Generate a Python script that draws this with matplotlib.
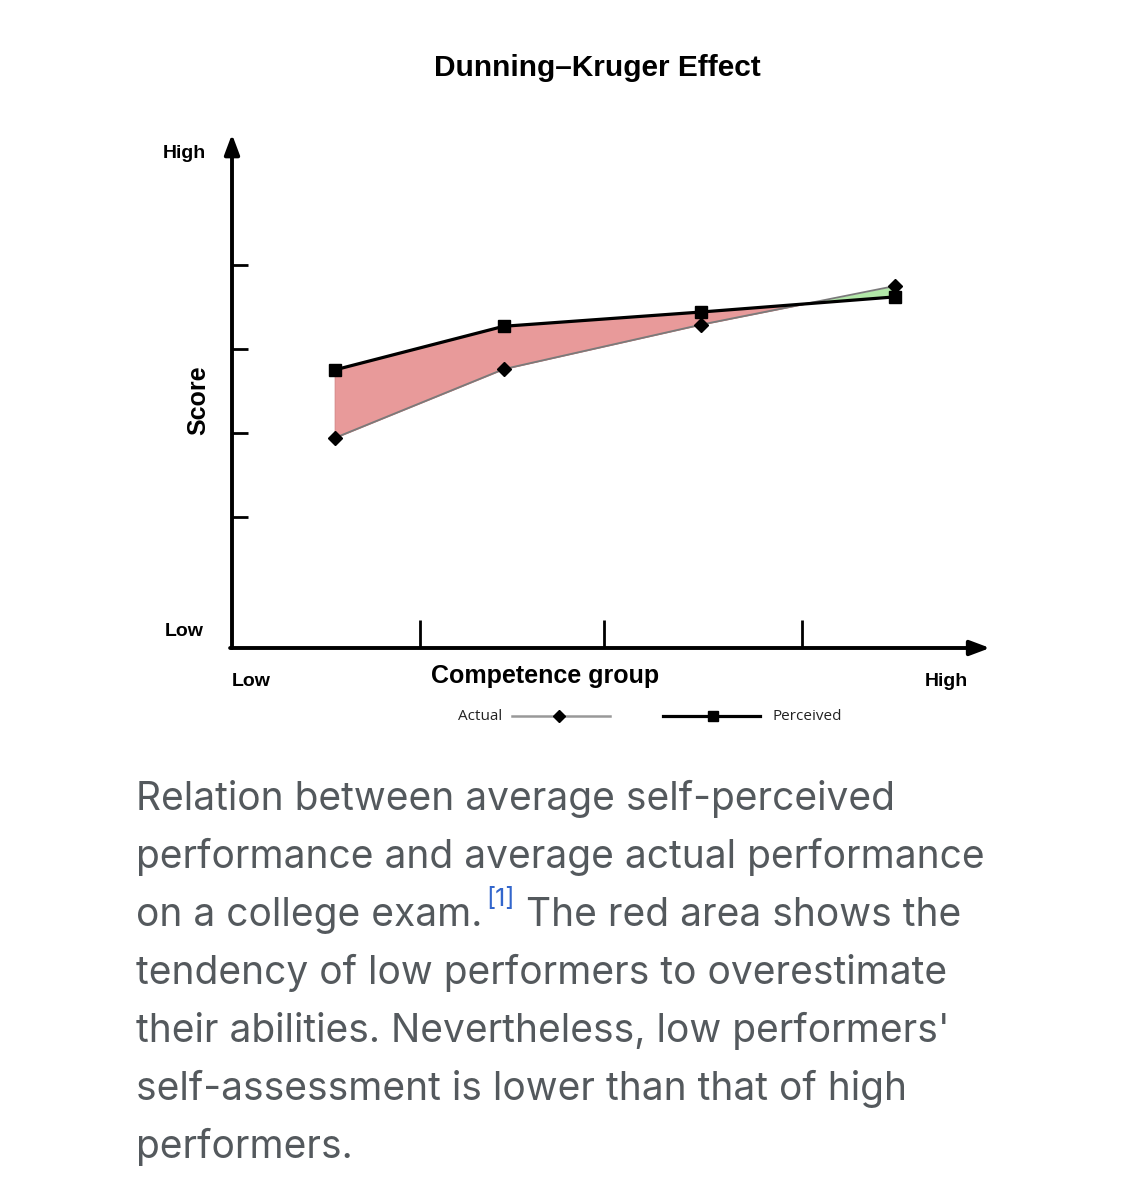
import numpy as np
import matplotlib
matplotlib.use("Agg")
import matplotlib.pyplot as plt

# competence groups (quartile centres) and scores
groups = [0.54, 1.43, 2.47, 3.49]
actual = [1.94, 2.76, 3.29, 3.75]
perceived = [2.75, 3.27, 3.44, 3.62]
group_ticks = [0.99, 1.96, 3.0]
score_ticks = [1, 2, 3, 4]

title = "Dunning\u2013Kruger Effect"
caption_lines = [
    "Relation between average self-perceived",
    "performance and average actual performance",
    "on a college exam.",
    "tendency of low performers to overestimate",
    "their abilities. Nevertheless, low performers'",
    "self-assessment is lower than that of high",
    "performers.",
]

W, H = 1147, 1200
fig = plt.figure(figsize=(W / 100, H / 100), dpi=100)
fig.patch.set_facecolor("white")

def fx(px):
    return px / W

def fy(py):
    return 1 - py / H

# axes box in pixels: x 232..990, y 130..648
ax = fig.add_axes([fx(232), fy(648), fx(990) - fx(232), fy(130) - fy(648)])
xmax = (990 - 232) / 190
ymin = -0.56
ymax = ymin + (648 - 130) / 84
ax.set_xlim(0, xmax)
ax.set_ylim(ymin, ymax)
ax.axis("off")

x = np.array(groups)
a = np.array(actual)
p = np.array(perceived)
ax.fill_between(x, a, p, where=p >= a, interpolate=True, color="#e89a9a", lw=0.6, edgecolor="#d08080")
ax.fill_between(x, a, p, where=p < a, interpolate=True, color="#b2e8a8", lw=0)

ax.plot(x, a, color="#7a7a7a", lw=1.3, marker="D", ms=7, mfc="black", mec="black", zorder=3)
ax.plot(x, p, color="black", lw=2.3, marker="s", ms=8, mfc="black", mec="black", zorder=4)

# arrows for axes
arr = dict(arrowstyle="-|>,head_width=0.45,head_length=1.2", color="black", lw=2.8, shrinkA=0, shrinkB=0)
ax.annotate("", xy=(0, ymax - 0.05), xytext=(0, ymin), arrowprops=arr, annotation_clip=False)
ax.annotate("", xy=(xmax, ymin), xytext=(-0.01, ymin), arrowprops=arr, annotation_clip=False)

for t in group_ticks:
    ax.plot([t, t], [ymin, ymin + 28 / 84], color="black", lw=2, solid_capstyle="butt", clip_on=False)
for t in score_ticks:
    ax.plot([0, 16 / 190], [t, t], color="black", lw=2, solid_capstyle="butt", clip_on=False)

bold_font = ["Liberation Sans", "DejaVu Sans"]
fig.text(fx(597), fy(68), title, ha="center", va="center", fontsize=21.5, fontweight="bold", family=bold_font)
fig.text(fx(184), fy(154), "High", ha="center", va="center", fontsize=14, fontweight="bold", family=bold_font)
fig.text(fx(184), fy(632), "Low", ha="center", va="center", fontsize=14, fontweight="bold", family=bold_font)
fig.text(fx(198), fy(400), "Score", ha="center", va="center", rotation=90, fontsize=18, fontweight="bold", family=bold_font)
fig.text(fx(251), fy(682), "Low", ha="center", va="center", fontsize=14, fontweight="bold", family=bold_font)
fig.text(fx(946), fy(682), "High", ha="center", va="center", fontsize=14, fontweight="bold", family=bold_font)
fig.text(fx(545), fy(676), "Competence group", ha="center", va="center", fontsize=18, fontweight="bold", family=bold_font)

# legend drawn by hand
leg = fig.add_axes([0, 0, 1, 1], facecolor="none")
leg.set_xlim(0, W)
leg.set_ylim(H, 0)
leg.axis("off")
leg.plot([512, 610], [716, 716], color="#999999", lw=1.8)
leg.plot([559], [716], marker="D", ms=6, color="black")
leg.plot([663, 760], [716, 716], color="black", lw=2.3)
leg.plot([713], [716], marker="s", ms=7, color="black")
leg.text(502, 716, "Actual", ha="right", va="center", fontsize=11, color="#222222", family=["Open Sans", "DejaVu Sans"])
leg.text(773, 716, "Perceived", ha="left", va="center", fontsize=11, color="#222222", family=["Open Sans", "DejaVu Sans"])

# caption below the chart
cap_font = ["Inter", "DejaVu Sans"]
cap_color = "#54595d"
renderer = fig.canvas.get_renderer()
y0 = 810
for i, line in enumerate(caption_lines):
    yb = y0 + 58 * i
    t = leg.text(136, yb, line, ha="left", va="baseline", fontsize=28, color=cap_color, family=cap_font)
    if i == 2:
        bb = t.get_window_extent(renderer)
        s = leg.text(bb.x1 + 4, yb - 20, "[1]", ha="left", va="baseline", fontsize=18, color="#3366cc", family=cap_font)
        bb2 = s.get_window_extent(renderer)
        leg.text(bb2.x1, yb, " The red area shows the", ha="left", va="baseline", fontsize=28, color=cap_color, family=cap_font)

fig.savefig("out.png", dpi=100, facecolor="white")
